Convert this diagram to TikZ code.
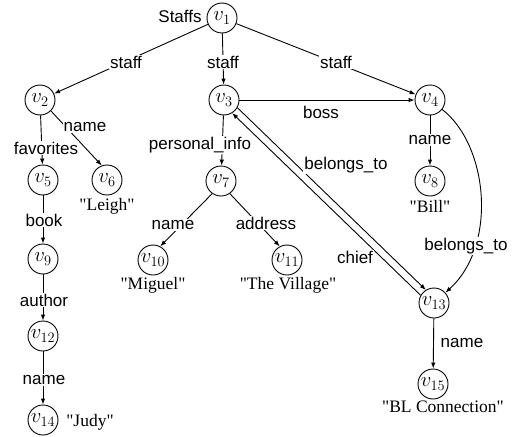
\documentclass[tikz,border=0pt]{standalone}
\usepackage{fontspec}
\setmainfont{Liberation Serif}
\setsansfont{Liberation Sans}
\usetikzlibrary{arrows.meta}
\newcommand{\qq}[1]{\textquotedbl#1\textquotedbl}
\begin{document}
\begin{tikzpicture}[x=1pt,y=-1pt,
  vn/.style={circle,draw,line width=0.9pt,minimum size=30pt,inner sep=0pt,font=\fontsize{22}{22}\selectfont},
  el/.style={font=\fontsize{17}{17}\selectfont\sffamily,fill=white,inner sep=1pt},
  val/.style={font=\fontsize{17.5}{17.5}\selectfont,inner sep=1pt},
  arr/.style={line width=0.9pt,-{Latex[length=6pt,width=4.5pt]}}]
\useasboundingbox (0,0) rectangle (516,436);
% vertices
\node[vn] (v1) at (222,18) {$v_{1}$};
\node[vn] (v2) at (40,100) {$v_{2}$};
\node[vn] (v3) at (224,100) {$v_{3}$};
\node[vn] (v4) at (430,100) {$v_{4}$};
\node[vn] (v5) at (43,180) {$v_{5}$};
\node[vn] (v6) at (107,180) {$v_{6}$};
\node[vn] (v7) at (221,181) {$v_{7}$};
\node[vn] (v8) at (430,181) {$v_{8}$};
\node[vn] (v9) at (43,259) {$v_{9}$};
\node[vn] (v10) at (153,260) {$v_{10}$};
\node[vn] (v11) at (287,260) {$v_{11}$};
\node[vn] (v12) at (43,336) {$v_{12}$};
\node[vn] (v13) at (434,303) {$v_{13}$};
\node[vn] (v14) at (43,420) {$v_{14}$};
\node[vn] (v15) at (433,384) {$v_{15}$};
% connectors
\draw[arr] (v1) -- (v2);
\draw[arr] (v1) -- (v3);
\draw[arr] (v1) -- (v4);
\draw[arr] (v2) -- (v5);
\draw[arr] (v2.-45) -- (v6.110);
\draw[arr] (v3) -- (v7);
\draw[arr] (v3) -- (v4);
\draw[arr] (v3.-30) -- (v13.122);
\draw[arr] (v13.150) -- (v3.-58);
\draw[arr] (v4) -- (v8);
\draw[arr] (v4) .. controls (488,145) and (498,245) .. (v13);
\draw[arr] (v5) -- (v9);
\draw[arr] (v7.-125) -- (v10.62);
\draw[arr] (v7.-55) -- (v11.118);
\draw[arr] (v9) -- (v12);
\draw[arr] (v12) -- (v14);
\draw[arr] (v13) -- (v15);
% edge labels
\node[el] (lStaffs) at (180,16) {Staffs};
\node[el] (ls1) at (126,62) {staff};
\node[el] (ls2) at (223,62) {staff};
\node[el] (ls3) at (336,62) {staff};
\node[el] (lfav) at (46,148) {favorites};
\node[el] (lname2) at (85,127) {name};
\node[el] (lpi) at (200,145) {personal\_info};
\node[el] (lboss) at (321,112) {boss};
\node[el] (lname4) at (430,140) {name};
\node[el] (lbel1) at (346,165) {belongs\_to};
\node[el] (lchief) at (355,257) {chief};
\node[el] (lbel2) at (466,246) {belongs\_to};
\node[el] (lname7) at (173,225) {name};
\node[el] (laddr) at (266,223) {address};
\node[el] (lbook) at (44,220) {book};
\node[el] (lauth) at (44,300) {author};
\node[el] (lname12) at (44,380) {name};
\node[el] (lname13) at (462,343) {name};
% values
\node[val] (t6) at (107,206) {\qq{Leigh}};
\node[val] (t8) at (430,206) {\qq{Bill}};
\node[val] (t10) at (153,285) {\qq{Miguel}};
\node[val] (t11) at (288,285) {\qq{The Village}};
\node[val] (t14) at (90,422) {\qq{Judy}};
\node[val] (t15) at (443,407) {\qq{BL Connection}};
\end{tikzpicture}
\end{document}
